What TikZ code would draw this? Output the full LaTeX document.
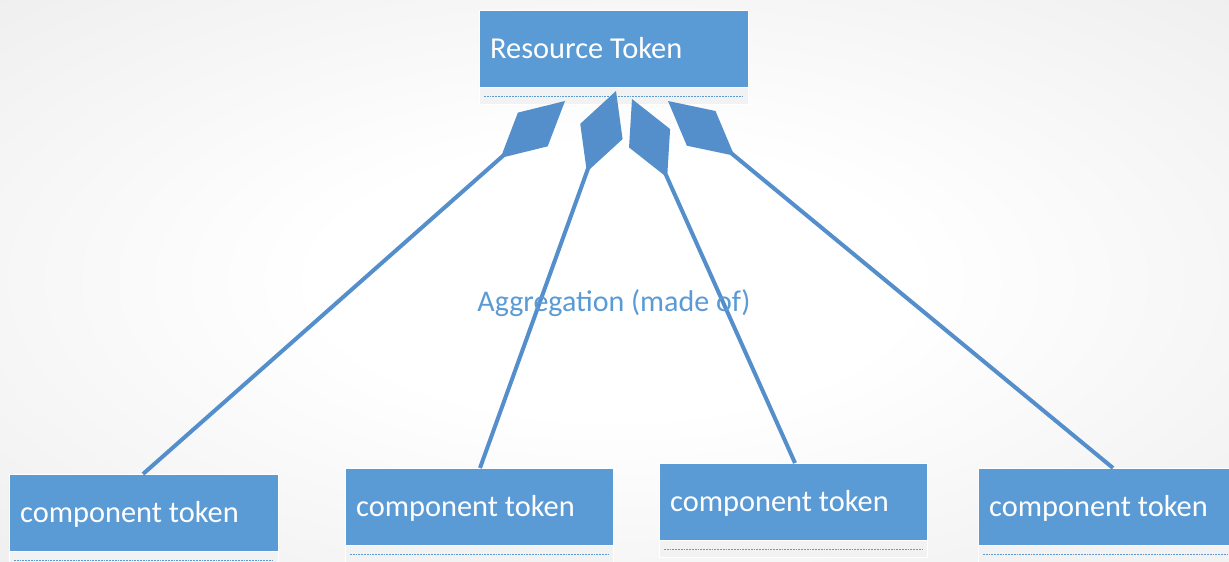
\documentclass[tikz,border=0pt]{standalone}
\usepackage{fontspec}
\setmainfont{Carlito}
\usetikzlibrary{arrows.meta}
\definecolor{umlblue}{RGB}{91,155,213}
\definecolor{linkblue}{RGB}{84,143,203}
\definecolor{stripgray}{RGB}{242,242,242}
\pgfdeclareradialshading{bgglow}{\pgfpoint{0bp}{0bp}}{color(0bp)=(white); color(12bp)=(white); color(50bp)=(white!90!black)}

\begin{document}
\begin{tikzpicture}[x=1pt,y=-1pt,
  classbox/.style={fill=umlblue, draw=white, line width=0.8pt, anchor=north west,
    minimum width=#1, minimum height=77pt, inner sep=0pt},
  strip/.style={fill=stripgray, draw=white, line width=0.8pt},
  sepline/.style={draw=umlblue, line width=0.8pt, dash pattern=on 1.8pt off 1pt},
  boxlabel/.style={text=white, anchor=base west, inner sep=0pt,
    font=\fontsize{30.4}{36}\selectfont},
  agglabel/.style={text=umlblue, anchor=base, inner sep=0pt,
    font=\fontsize{30}{36}\selectfont},
  agg/.style={draw=linkblue, line width=4pt, line join=miter,
    -{Diamond[length=86pt,width=45pt]}}
]
\useasboundingbox (0,0) rectangle (1229,562);
\shade[shading=bgglow] (0,0) rectangle (1229,562);

% whole class: title compartment, empty compartment, separator
\newcommand{\umlclass}[4]{%
  \node[classbox=#3] (#1) at #2 {};
  \draw[strip] (#1.south west) rectangle ([yshift=-17pt]#1.south east);
  \draw[sepline] ([xshift=5pt,yshift=-9pt]#1.south west) -- ([xshift=-5pt,yshift=-9pt]#1.south east);
  \node[boxlabel] (#1t) at ([xshift=11pt,yshift=-48pt]#1.north west) {#4};
}

\umlclass{r}{(479,10)}{269pt}{Resource Token}
\umlclass{c1}{(9,474)}{269pt}{component token}
\umlclass{c2}{(345,468)}{268pt}{component token}
\umlclass{c3}{(659,463)}{268pt}{component token}
\umlclass{c4}{(978,468)}{269pt}{component token}

% aggregation diamond tips under the resource class
\coordinate (t1) at (565,101);
\coordinate (t2) at (616,91);
\coordinate (t3) at (632,99);
\coordinate (t4) at (668,101);

\draw[agg] ([xshift=134pt]c1.north west) -- (t1);
\draw[agg] ([xshift=135pt]c2.north west) -- (t2);
\draw[agg] ([xshift=136pt]c3.north west) -- (t3);
\draw[agg] ([xshift=135pt]c4.north west) -- (t4);

\node[agglabel] (lbl) at (614,311) {Aggregation (made of)};
\end{tikzpicture}
\end{document}
